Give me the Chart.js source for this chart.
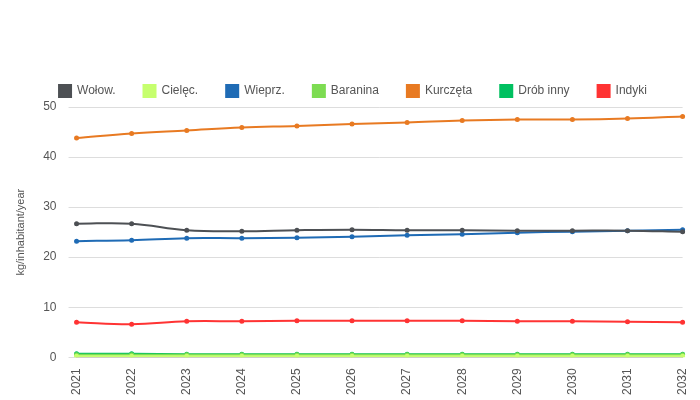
<!DOCTYPE html>
<html>
<head>
<meta charset="utf-8">
<script src="https://cdn.jsdelivr.net/npm/chart.js@4"></script>
<style>body{margin:0;background:#fff}#wrap{width:700px;height:400px}</style>
</head>
<body>
<div id="wrap"><canvas id="chart"></canvas></div>
<script>
var years = ['2021','2022','2023','2024','2025','2026','2027','2028','2029','2030','2031','2032'];
var wolow = [26.7, 26.7, 25.4, 25.2, 25.4, 25.5, 25.4, 25.4, 25.3, 25.3, 25.3, 25.1];
var cielec = [0.2, 0.2, 0.2, 0.2, 0.2, 0.2, 0.2, 0.2, 0.2, 0.2, 0.2, 0.2];
var wieprz = [23.2, 23.4, 23.8, 23.8, 23.9, 24.1, 24.4, 24.6, 24.9, 25.1, 25.3, 25.5];
var baranina = [0.5, 0.5, 0.5, 0.5, 0.5, 0.5, 0.5, 0.5, 0.5, 0.5, 0.5, 0.5];
var kurczeta = [43.8, 44.7, 45.3, 45.9, 46.2, 46.6, 46.9, 47.3, 47.5, 47.5, 47.7, 48.1];
var drobInny = [0.7, 0.7, 0.6, 0.6, 0.6, 0.6, 0.6, 0.6, 0.6, 0.6, 0.6, 0.6];
var indyki = [7.0, 6.6, 7.2, 7.2, 7.3, 7.3, 7.3, 7.3, 7.2, 7.2, 7.1, 7.0];

function series(label, data, color) {
    return {
        label: label, data: data,
        borderColor: color, backgroundColor: color,
        borderWidth: 2, pointRadius: 1.5, pointHoverRadius: 3,
        tension: 0.4, fill: false
    };
}

new Chart(document.getElementById('chart'), {
    type: 'line',
    data: {
        labels: years,
        datasets: [
            series('Wołow.', wolow, '#4d5054'),
            series('Cielęc.', cielec, '#c6ff6e'),
            series('Wieprz.', wieprz, '#1f6bb5'),
            series('Baranina', baranina, '#7ddc52'),
            series('Kurczęta', kurczeta, '#e87a22'),
            series('Drób inny', drobInny, '#00c060'),
            series('Indyki', indyki, '#ff3333')
        ]
    },
    options: {
        responsive: true,
        maintainAspectRatio: false,
        animation: false,
        layout: { padding: { top: 57, right: 4, left: 10, bottom: 2 } },
        plugins: {
            legend: {
                position: 'top',
                align: 'center',
                labels: { boxWidth: 12, boxHeight: 12, padding: 28, color: '#555', font: { family: 'Liberation Sans', size: 12 } }
            }
        },
        scales: {
            x: {
                grid: { display: false },
                border: { color: '#ccc', width: 2 },
                ticks: { minRotation: 90, maxRotation: 90, color: '#555', font: { family: 'Liberation Sans', size: 12 } }
            },
            y: {
                min: 0, max: 50,
                border: { display: false },
                grid: { color: '#ddd' },
                ticks: { stepSize: 10, padding: 12, color: '#555', font: { family: 'Liberation Sans', size: 12 } },
                title: { display: true, text: 'kg/inhabitant/year', color: '#555', font: { family: 'Liberation Sans', size: 11 } }
            }
        }
    }
});
</script>
</body>
</html>
